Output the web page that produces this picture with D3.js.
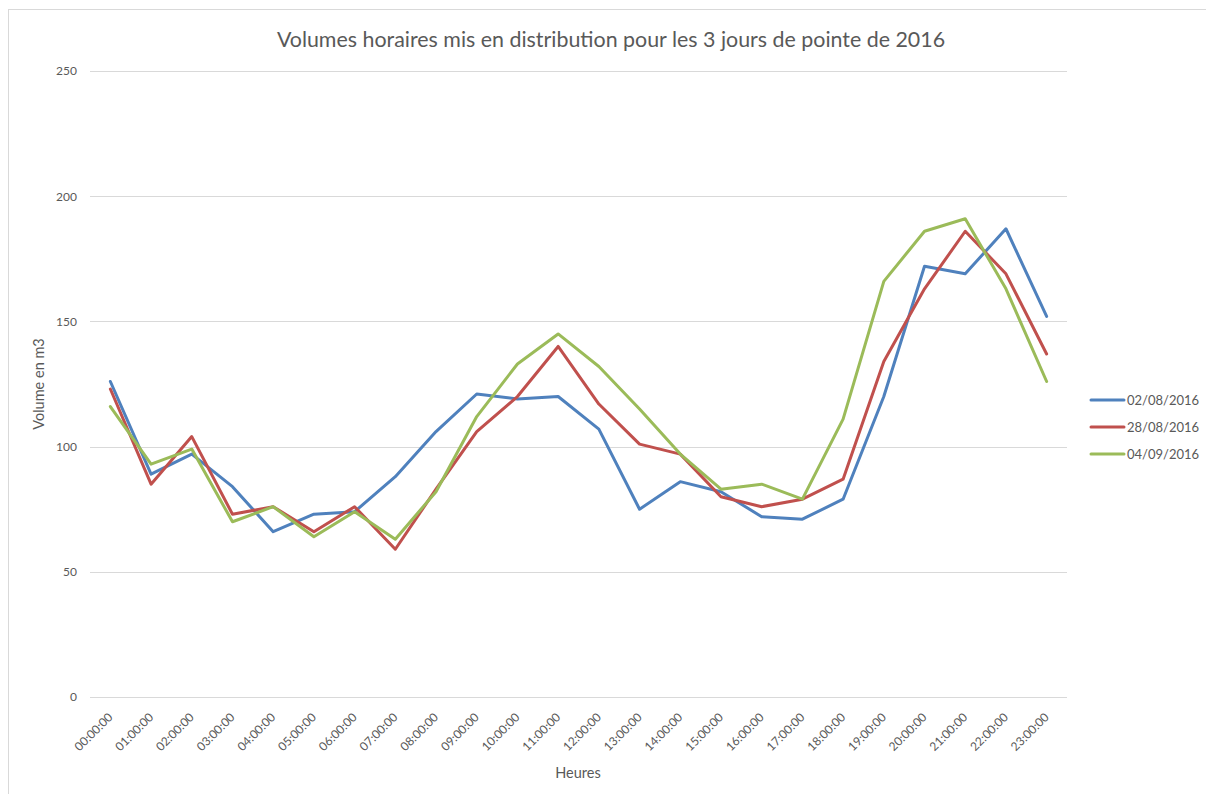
<!DOCTYPE html>
<html>
<head>
<meta charset="utf-8">
<script src="https://cdn.jsdelivr.net/npm/d3@7"></script>
<style>
  body { margin: 0; background: #fff; }
  text { font-family: Lato, "Open Sans", sans-serif; fill: #595959; }
</style>
</head>
<body>
<svg id="chart" width="1206" height="794"></svg>
<script>
let hours = ['00:00:00','01:00:00','02:00:00','03:00:00','04:00:00','05:00:00','06:00:00','07:00:00',
	'08:00:00','09:00:00','10:00:00','11:00:00','12:00:00','13:00:00','14:00:00','15:00:00',
	'16:00:00','17:00:00','18:00:00','19:00:00','20:00:00','21:00:00','22:00:00','23:00:00']

let day1 = [126, 89, 97, 84, 66, 73, 74, 88, 106, 121, 119, 120, 107, 75, 86, 82, 72, 71, 79, 120, 172, 169, 187, 152]
let day2 = [123, 85, 104, 73, 76, 66, 76, 59, 83, 106, 120, 140, 117, 101, 97, 80, 76, 79, 87, 134, 163, 186, 169, 137]
let day3 = [116, 93, 99, 70, 76, 64, 74, 63, 82, 112, 133, 145, 132, 115, 97, 83, 85, 79, 111, 166, 186, 191, 163, 126]

let seriesNames = ['02/08/2016', '28/08/2016', '04/09/2016']
let seriesColors = ['#4f81bd', '#c0504d', '#9bbb59']
let yTicks = [0, 50, 100, 150, 200, 250]

let series = [day1, day2, day3].map((values, i) => ({
	name : seriesNames[i],
	color : seriesColors[i],
	values : values
}))

let svg = d3.select('#chart')

let plotLeft = 90, plotRight = 1067, plotTop = 71, plotBottom = 697

// chart frame
svg.append('rect')
	.attr('x', 8.5).attr('y', 9.5)
	.attr('width', 1240).attr('height', 820)
	.attr('fill', 'none')
	.attr('stroke', '#d9d9d9')

let x = d3.scaleBand()
	.domain(hours)
	.range([plotLeft, plotRight])

let y = d3.scaleLinear()
	.domain([0, 250])
	.range([plotBottom, plotTop])

// gridlines
svg.append('g')
	.selectAll('line')
	.data(yTicks)
	.enter()
	.append('line')
	.attr('x1', plotLeft)
	.attr('x2', plotRight)
	.attr('y1', d => Math.round(y(d)) + 0.5)
	.attr('y2', d => Math.round(y(d)) + 0.5)
	.attr('stroke', '#d9d9d9')
	.attr('stroke-width', 1)

// y axis labels
let yAxis = svg.append('g')
	.attr('transform', `translate(${plotLeft},0)`)
	.call(d3.axisLeft(y).tickValues(yTicks).tickSize(0).tickPadding(13))
yAxis.select('.domain').remove()
yAxis.selectAll('text')
	.style('font-size', '12px')
	.style('fill', '#595959')
	.style('font-family', 'Lato, "Open Sans", sans-serif')

// x axis labels
let xAxis = svg.append('g')
	.attr('transform', `translate(0,${plotBottom})`)
	.call(d3.axisBottom(x).tickSize(0).tickPadding(0))
xAxis.select('.domain').remove()
xAxis.selectAll('text')
	.style('font-size', '12px')
	.style('fill', '#595959')
	.style('font-family', 'Lato, "Open Sans", sans-serif')
	.attr('text-anchor', 'end')
	.attr('dy', 0)
	.attr('transform', 'translate(3,21) rotate(-45)')

let line = d3.line()
	.x((d, i) => x(hours[i]) + x.bandwidth() / 2)
	.y(d => y(d))

svg.append('g')
	.selectAll('path')
	.data(series)
	.enter()
	.append('path')
	.attr('d', d => line(d.values))
	.attr('fill', 'none')
	.attr('stroke', d => d.color)
	.attr('stroke-width', 3)
	.attr('stroke-linejoin', 'round')
	.attr('stroke-linecap', 'round')

// title
svg.append('text')
	.attr('x', 611)
	.attr('y', 47)
	.attr('text-anchor', 'middle')
	.style('font-size', '21.4px')
	.text('Volumes horaires mis en distribution pour les 3 jours de pointe de 2016')

// axis titles
svg.append('text')
	.attr('transform', 'translate(44,384) rotate(-90)')
	.attr('text-anchor', 'middle')
	.style('font-size', '14.5px')
	.text('Volume en m3')

svg.append('text')
	.attr('x', 578)
	.attr('y', 778)
	.attr('text-anchor', 'middle')
	.style('font-size', '14.5px')
	.text('Heures')

// legend
let legend = svg.append('g')
	.selectAll('g')
	.data(series)
	.enter()
	.append('g')
	.attr('transform', (d, i) => `translate(1091,${400 + i * 27})`)

legend.append('line')
	.attr('x1', 0).attr('x2', 33)
	.attr('stroke', d => d.color)
	.attr('stroke-width', 3)
	.attr('stroke-linecap', 'round')

legend.append('text')
	.attr('x', 36)
	.attr('dy', '0.35em')
	.style('font-size', '13px')
	.text(d => d.name)
</script>
</body>
</html>
